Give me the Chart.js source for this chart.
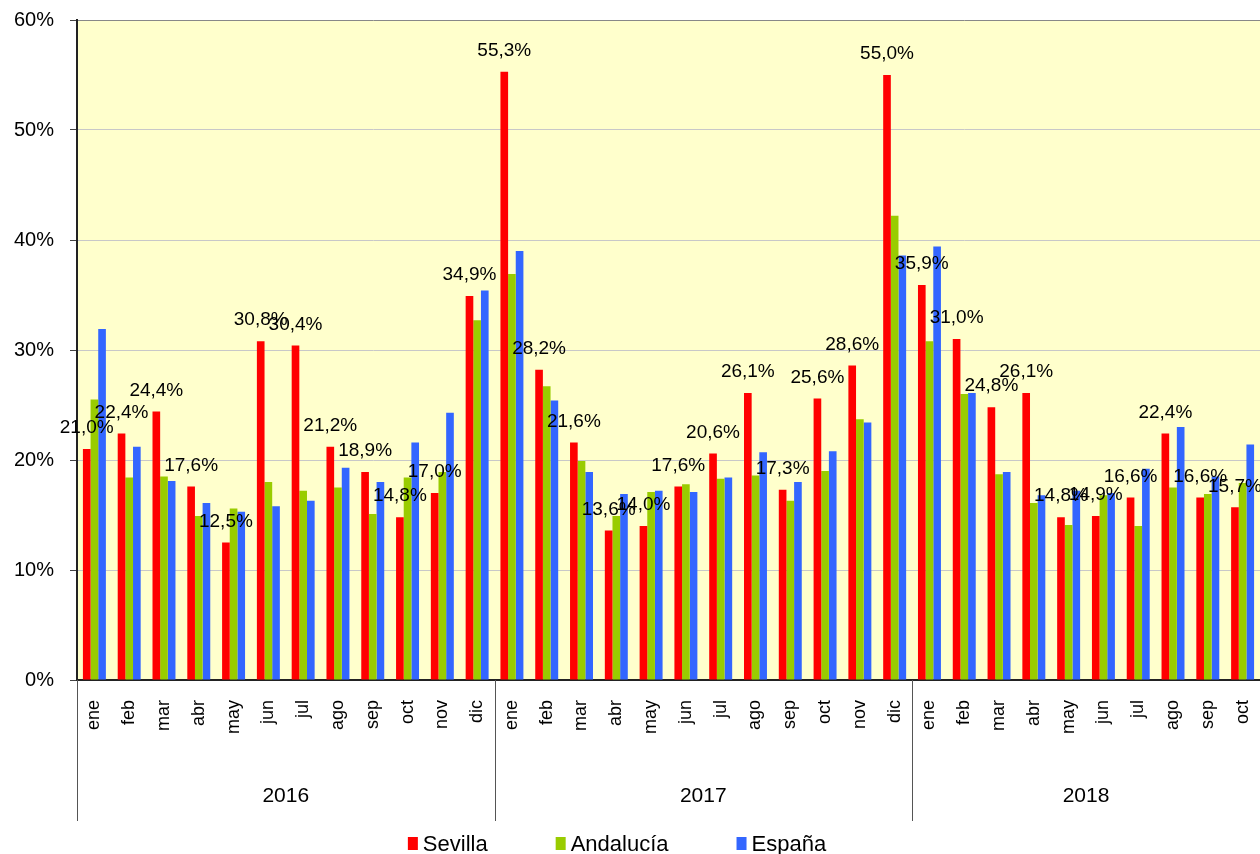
<!DOCTYPE html>
<html>
<head>
<meta charset="utf-8">
<script src="https://cdn.jsdelivr.net/npm/chart.js@4.4.1/dist/chart.umd.min.js"></script>
<style>
html,body{margin:0;padding:0;background:#fff;}
#wrap{width:1260px;height:854px;position:relative;overflow:hidden;}
</style>
</head>
<body>
<div id="wrap"><canvas id="c" width="1260" height="854"></canvas></div>
<script>
// ---- data ----
const months = ['ene','feb','mar','abr','may','jun','jul','ago','sep','oct','nov','dic',
                'ene','feb','mar','abr','may','jun','jul','ago','sep','oct','nov','dic',
                'ene','feb','mar','abr','may','jun','jul','ago','sep','oct'];
const years = ['2016','2017','2018'];
const monthsPerYear = [12, 12, 10];
const seriesNames = ['Sevilla', 'Andalucía', 'España'];
const sevilla   = [21.0,22.4,24.4,17.6,12.5,30.8,30.4,21.2,18.9,14.8,17.0,34.9,
                   55.3,28.2,21.6,13.6,14.0,17.6,20.6,26.1,17.3,25.6,28.6,55.0,
                   35.9,31.0,24.8,26.1,14.8,14.9,16.6,22.4,16.6,15.7];
const andalucia = [25.5,18.4,18.5,14.9,15.6,18.0,17.2,17.5,15.1,18.4,18.9,32.7,
                   36.9,26.7,19.9,14.9,17.1,17.8,18.3,18.6,16.3,19.0,23.7,42.2,
                   30.8,26.0,18.7,16.1,14.1,16.8,14.0,17.5,16.9,17.9];
const espana    = [31.9,21.2,18.1,16.1,15.3,15.8,16.3,19.3,18.0,21.6,24.3,35.4,
                   39.0,25.4,18.9,16.9,17.2,17.1,18.4,20.7,18.0,20.8,23.4,38.6,
                   39.4,26.1,18.9,16.8,17.2,17.0,19.2,23.0,18.5,21.4];
const yMin = 0, yMax = 60, yStep = 10;

// ---- styles ----
const FONT = '"Liberation Sans", Arial, sans-serif';
const colors = ['#FF0000', '#99CC00', '#3366FF'];
Chart.defaults.font.family = FONT;
Chart.defaults.color = '#000';

const fmt = v => v.toFixed(1).replace('.', ',') + '%';

const plotBg = {
  id: 'plotBg',
  beforeDraw(chart) {
    const {ctx, chartArea: a} = chart;
    ctx.save();
    ctx.fillStyle = '#FFFFCC';
    ctx.fillRect(a.left, a.top, a.right - a.left, a.bottom - a.top);
    ctx.restore();
  }
};

const valueLabels = {
  id: 'valueLabels',
  afterDatasetsDraw(chart) {
    const {ctx} = chart;
    const meta = chart.getDatasetMeta(0);
    ctx.save();
    ctx.font = '19px ' + FONT;
    ctx.fillStyle = '#000';
    ctx.textAlign = 'center';
    ctx.textBaseline = 'middle';
    meta.data.forEach((el, i) => {
      ctx.fillText(fmt(chart.data.datasets[0].data[i]), el.x, el.y - 21);
    });
    ctx.restore();
  }
};

const yearAxis = {
  id: 'yearAxis',
  afterDraw(chart) {
    const {ctx, chartArea: a} = chart;
    const xs = chart.scales.x;
    const total = months.length;
    ctx.save();
    ctx.strokeStyle = '#555';
    ctx.lineWidth = 1;
    ctx.fillStyle = '#000';
    ctx.font = '21px ' + FONT;
    ctx.textAlign = 'center';
    ctx.textBaseline = 'middle';
    let start = 0;
    years.forEach((y, g) => {
      const n = monthsPerYear[g];
      const end = start + n;
      const left = start === 0 ? a.left : (xs.getPixelForValue(start - 1) + xs.getPixelForValue(start)) / 2;
      const right = end >= total ? a.right : (xs.getPixelForValue(end - 1) + xs.getPixelForValue(end)) / 2;
      const lx = Math.round(left) + 0.5;
      ctx.beginPath();
      ctx.moveTo(lx, a.bottom);
      ctx.lineTo(lx, 821);
      ctx.stroke();
      ctx.fillText(y, (left + right) / 2, 796);
      start = end;
    });
    ctx.restore();
  }
};

const bottomLegend = {
  id: 'bottomLegend',
  afterDraw(chart) {
    const {ctx} = chart;
    ctx.save();
    ctx.font = '22px ' + FONT;
    const boxW = 10, boxH = 13, gapText = 5, gapItem = 68;
    const ds = chart.data.datasets;
    const widths = ds.map(d => boxW + gapText + ctx.measureText(d.label).width);
    const total = widths.reduce((s, w) => s + w, 0) + gapItem * (ds.length - 1);
    let x = 617 - total / 2;
    const cy = 845;
    ctx.textBaseline = 'middle';
    ctx.textAlign = 'left';
    ds.forEach((d, i) => {
      ctx.fillStyle = d.backgroundColor;
      ctx.fillRect(x, 837, boxW, boxH);
      ctx.fillStyle = '#000';
      ctx.fillText(d.label, x + boxW + gapText, cy);
      x += widths[i] + gapItem;
    });
    ctx.restore();
  }
};

new Chart(document.getElementById('c'), {
  type: 'bar',
  data: {
    labels: months,
    datasets: [
      {label: seriesNames[0], data: sevilla,   backgroundColor: colors[0]},
      {label: seriesNames[1], data: andalucia, backgroundColor: colors[1]},
      {label: seriesNames[2], data: espana,    backgroundColor: colors[2]}
    ]
  },
  options: {
    responsive: false,
    animation: false,
    devicePixelRatio: 1,
    layout: {padding: {top: 20, right: 0, bottom: 0, left: 0}},
    datasets: {bar: {categoryPercentage: 0.66, barPercentage: 1.0}},
    plugins: {legend: {display: false}, tooltip: {enabled: false}},
    scales: {
      x: {
        type: 'category',
        grid: {display: false, drawTicks: false},
        border: {display: true, color: '#222', width: 2},
        ticks: {autoSkip: false, minRotation: 90, maxRotation: 90, padding: 20,
                font: {size: 18}, color: '#000'},
        afterFit(s) { s.height = 174; s.paddingLeft = 0; s.paddingRight = 0; }
      },
      y: {
        min: yMin, max: yMax,
        ticks: {stepSize: yStep, padding: 16, font: {size: 20}, color: '#000',
                callback: v => v + '%'},
        grid: {color: c => (c.tick && c.tick.value === yMax) ? '#888' : '#c8c8c8',
               tickColor: '#444', tickLength: 7},
        border: {display: true, color: '#222', width: 2},
        afterFit(s) { s.width = 77; s.paddingTop = 0; s.paddingBottom = 0; }
      }
    }
  },
  plugins: [plotBg, valueLabels, yearAxis, bottomLegend]
});
</script>
</body>
</html>
